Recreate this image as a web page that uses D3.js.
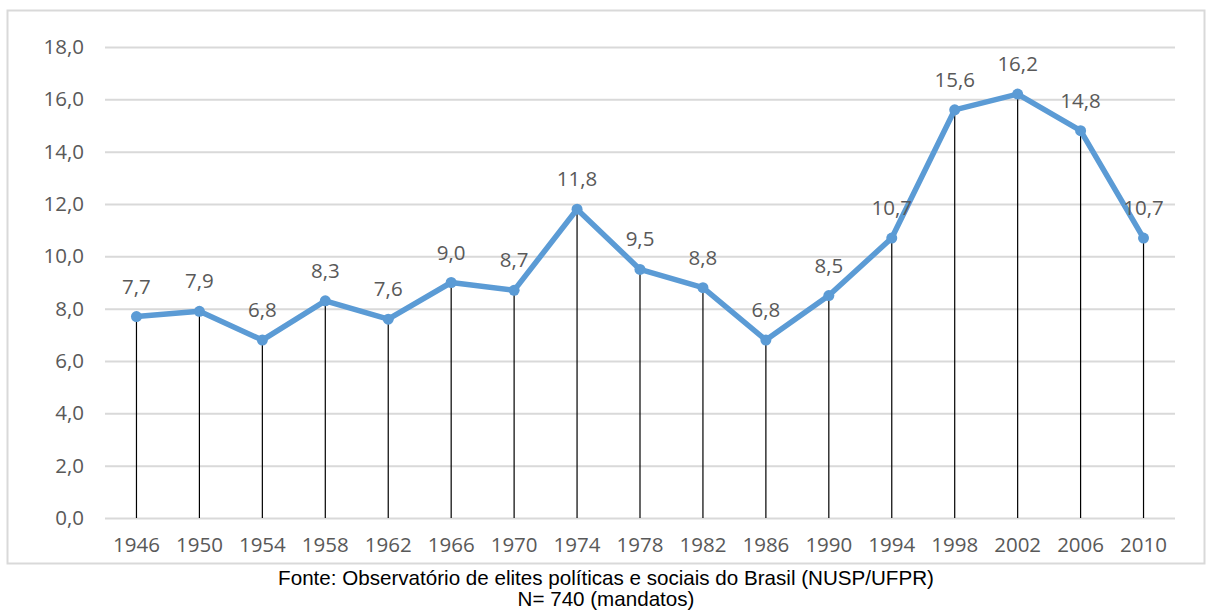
<!DOCTYPE html>
<html>
<head>
<meta charset="utf-8">
<script src="https://cdn.jsdelivr.net/npm/d3@7"></script>
<style>
    body { margin: 0; background: #fff; }
    svg { display: block; }
</style>
</head>
<body>
<div id="chart"></div>
<script>
// data
const years = ["1946", "1950", "1954", "1958", "1962", "1966", "1970", "1974", "1978",
    "1982", "1986", "1990", "1994", "1998", "2002", "2006", "2010"];
const values = [7.7, 7.9, 6.8, 8.3, 7.6, 9.0, 8.7, 11.8, 9.5, 8.8, 6.8, 8.5, 10.7, 15.6, 16.2, 14.8, 10.7];
const yTicks = [0, 2, 4, 6, 8, 10, 12, 14, 16, 18];
const sourceLines = [
    "Fonte: Observatório de elites políticas e sociais do Brasil (NUSP/UFPR)",
    "N= 740 (mandatos)"
];

const width = 1206, height = 612;
const margin = {top: 47, right: 31, bottom: 94, left: 105};
const fmt = v => d3.format(".1f")(v).replace(".", ",");
const labelFont = "'Open Sans', sans-serif";

let svg = d3.select("#chart").append("svg")
    .attr("width", width)
    .attr("height", height);

// outer frame of the chart area
svg.append("rect")
    .attr("x", 7.5)
    .attr("y", 10.5)
    .attr("width", 1197)
    .attr("height", 553)
    .attr("fill", "none")
    .attr("stroke", "#d9d9d9")
    .attr("stroke-width", 2);

let x = d3.scaleBand()
    .domain(years)
    .range([margin.left, width - margin.right]);

let y = d3.scaleLinear()
    .domain([0, 18])
    .range([height - margin.bottom, margin.top]);

// gridlines + y labels
let yAxis = svg.append("g")
    .attr("transform", "translate(" + margin.left + ",0)")
    .call(d3.axisLeft(y).tickValues(yTicks).tickFormat(fmt)
        .tickSize(-(width - margin.left - margin.right)).tickPadding(21));
yAxis.select(".domain").remove();
yAxis.selectAll(".tick line")
    .attr("stroke", "#d9d9d9")
    .attr("stroke-width", 2);
yAxis.selectAll(".tick text")
    .attr("fill", "#595959")
    .style("font-family", labelFont)
    .style("font-size", "20.5px");

// x labels
let xAxis = svg.append("g")
    .attr("transform", "translate(0," + y(0) + ")")
    .call(d3.axisBottom(x).tickSize(0).tickPadding(19));
xAxis.select(".domain").remove();
xAxis.selectAll(".tick text")
    .attr("fill", "#595959")
    .style("font-family", labelFont)
    .style("font-size", "20.5px");

const cx = d => x(d) + x.bandwidth() / 2;

// drop lines
svg.selectAll(".drop")
    .data(years)
    .join("line")
    .attr("class", "drop")
    .attr("x1", d => cx(d))
    .attr("x2", d => cx(d))
    .attr("y1", (d, i) => y(values[i]))
    .attr("y2", y(0))
    .attr("stroke", "#000")
    .attr("stroke-width", 1.2);

// the series line
let line = d3.line()
    .x((d, i) => cx(years[i]))
    .y(d => y(d));

svg.append("path")
    .datum(values)
    .attr("d", line)
    .attr("fill", "none")
    .attr("stroke", "#5b9bd5")
    .attr("stroke-width", 5.5)
    .attr("stroke-linejoin", "round");

svg.selectAll(".pt")
    .data(values)
    .join("circle")
    .attr("class", "pt")
    .attr("cx", (d, i) => cx(years[i]))
    .attr("cy", d => y(d))
    .attr("r", 5.5)
    .attr("fill", "#5b9bd5");

// value labels
svg.selectAll(".lbl")
    .data(values)
    .join("text")
    .attr("class", "lbl")
    .attr("x", (d, i) => cx(years[i]))
    .attr("y", d => y(d) - 23)
    .attr("text-anchor", "middle")
    .attr("fill", "#595959")
    .style("font-family", labelFont)
    .style("font-size", "20.5px")
    .text(fmt);

// source note below the frame
svg.selectAll(".src")
    .data(sourceLines)
    .join("text")
    .attr("class", "src")
    .attr("x", 606)
    .attr("y", (d, i) => 585 + i * 21)
    .attr("text-anchor", "middle")
    .attr("fill", "#000")
    .style("font-family", "'Liberation Sans', Arial, sans-serif")
    .style("font-size", "20.6px")
    .text(d => d);
</script>
</body>
</html>
